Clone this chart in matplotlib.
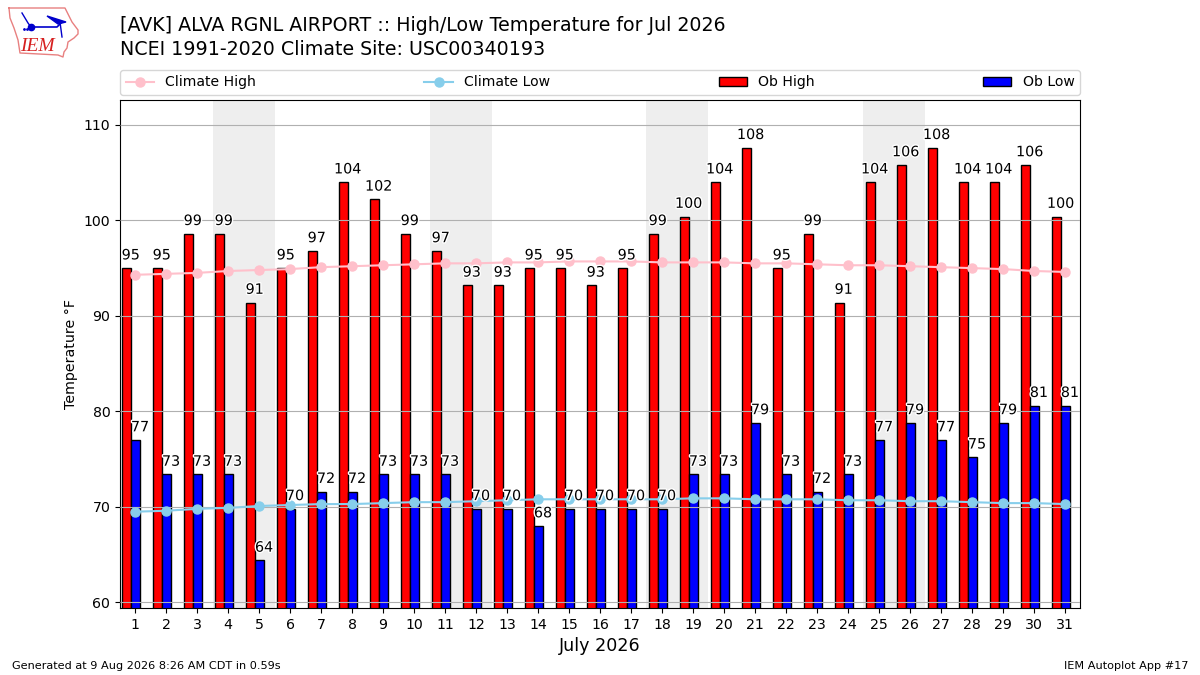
import matplotlib
matplotlib.use("Agg")
import matplotlib.pyplot as plt
import matplotlib.patheffects as pe
import numpy as np

days = list(range(1, 32))
ob_high = [95, 95, 98.6, 98.6, 91.4, 95, 96.8, 104, 102.2, 98.6, 96.8, 93.2, 93.2, 95, 95, 93.2,
           95, 98.6, 100.4, 104, 107.6, 95, 98.6, 91.4, 104, 105.8, 107.6, 104, 104, 105.8, 100.4]
ob_low = [77, 73.4, 73.4, 73.4, 64.4, 69.8, 71.6, 71.6, 73.4, 73.4, 73.4, 69.8, 69.8, 68, 69.8, 69.8,
          69.8, 69.8, 73.4, 73.4, 78.8, 73.4, 71.6, 73.4, 77, 78.8, 77, 75.2, 78.8, 80.6, 80.6]
climo_high = [94.3, 94.4, 94.5, 94.7, 94.8, 94.9, 95.1, 95.2, 95.3, 95.4, 95.5, 95.5, 95.6, 95.6, 95.7, 95.7,
              95.7, 95.6, 95.6, 95.6, 95.5, 95.5, 95.4, 95.3, 95.3, 95.2, 95.1, 95.0, 94.9, 94.7, 94.6]
climo_low = [69.5, 69.6, 69.8, 69.9, 70.1, 70.2, 70.3, 70.3, 70.4, 70.5, 70.5, 70.6, 70.7, 70.8, 70.8, 70.8,
             70.8, 70.8, 70.9, 70.9, 70.8, 70.8, 70.8, 70.7, 70.7, 70.6, 70.6, 70.5, 70.4, 70.4, 70.3]
weekends = [4, 11, 18, 25]

# logo outline, in pixels of the figure
iowa_x = [9, 65, 68, 72, 78, 78, 74, 68, 67, 64, 63, 58, 20, 18, 14, 10, 9]
iowa_y = [8, 8, 14, 22, 30, 34, 38, 42, 48, 52, 57, 55, 53, 40, 28, 18, 8]
wing_x = [47, 66, 58, 47]
wing_y = [16, 22, 24, 16]

fig = plt.figure(figsize=(12, 6.75), dpi=100)
ax = fig.add_axes([120 / 1200, 1 - 608 / 675, 960 / 1200, 508 / 675])

for d in weekends:
    ax.axvspan(d - 0.5, d + 1.5, color="#eeeeee", lw=0, zorder=0)

x = np.array(days)
b1 = ax.bar(x - 0.28, ob_high, width=0.3, color="r", edgecolor="k", label="Ob High", zorder=1)
b2 = ax.bar(x + 0.02, ob_low, width=0.3, color="b", edgecolor="k", label="Ob Low", zorder=1)
l1, = ax.plot(x, climo_high, color="pink", marker="o", ms=6.5, lw=1.5, label="Climate High", zorder=3)
l2, = ax.plot(x, climo_low, color="skyblue", marker="o", ms=6.5, lw=1.5, label="Climate Low", zorder=3)

stroke = [pe.withStroke(linewidth=2, foreground="white")]
for i, d in enumerate(days):
    ax.text(d - 0.14, ob_high[i] + 0.6, "%.0f" % ob_high[i], ha="center", va="bottom", fontsize=10.3,
            path_effects=stroke, zorder=4)
    ax.text(d + 0.16, ob_low[i] + 0.6, "%.0f" % ob_low[i], ha="center", va="bottom", fontsize=10.3,
            path_effects=stroke, zorder=4)

ax.set_xlim(0.516, 31.484)
ax.set_ylim(59.42, 112.6)
ax.set_xticks(days)
ax.set_yticks(range(60, 111, 10))
ax.tick_params(axis="both", labelsize=10.2)
ax.grid(axis="y", color="#b0b0b0")
ax.set_axisbelow(False)
ax.set_ylabel("Temperature °F", fontsize=10.2)
ax.set_xlabel("July 2026", fontsize=12.6)

ax.legend(handles=[l1, l2, b1, b2], ncol=4, mode="expand", loc="lower left",
          bbox_to_anchor=(0, 1.0098, 1, 0.05), borderaxespad=0, fontsize=10.1)

fig.text(120 / 1200, 1 - 31 / 675, "[AVK] ALVA RGNL AIRPORT :: High/Low Temperature for Jul 2026", fontsize=13.65, va="baseline")
fig.text(120 / 1200, 1 - 55 / 675, "NCEI 1991-2020 Climate Site: USC00340193", fontsize=13.65, va="baseline")
fig.text(12 / 1200, 1 - 669 / 675, "Generated at 9 Aug 2026 8:26 AM CDT in 0.59s", fontsize=8.15, va="baseline")
fig.text(1188 / 1200, 1 - 669 / 675, "IEM Autoplot App #17", fontsize=8.15, ha="right", va="baseline")

logo = fig.add_axes([0, 1 - 60 / 675, 90 / 1200, 60 / 675])
logo.set_xlim(0, 90)
logo.set_ylim(60, 0)
logo.axis("off")
logo.plot(iowa_x, iowa_y, color="#e88080", lw=1)
logo.fill(wing_x, wing_y, color="#0000cc")
logo.plot([31, 57, 62], [27, 27, 22], color="#0000cc", lw=1.2)
logo.plot([60, 62], [22, 37], color="#0000cc", lw=1)
logo.plot([22, 28, 31], [13, 23, 27], color="#0000cc", lw=1)
logo.plot([31], [27], marker="o", ms=4.5, color="#0000cc")
logo.plot([24, 27], [29, 29], ls="none", marker=".", ms=2, color="#0000cc")
logo.text(20, 51, "IEM", color="#d62020", fontsize=14, family="Liberation Serif", style="italic")

fig.savefig("out.png", dpi=100)
